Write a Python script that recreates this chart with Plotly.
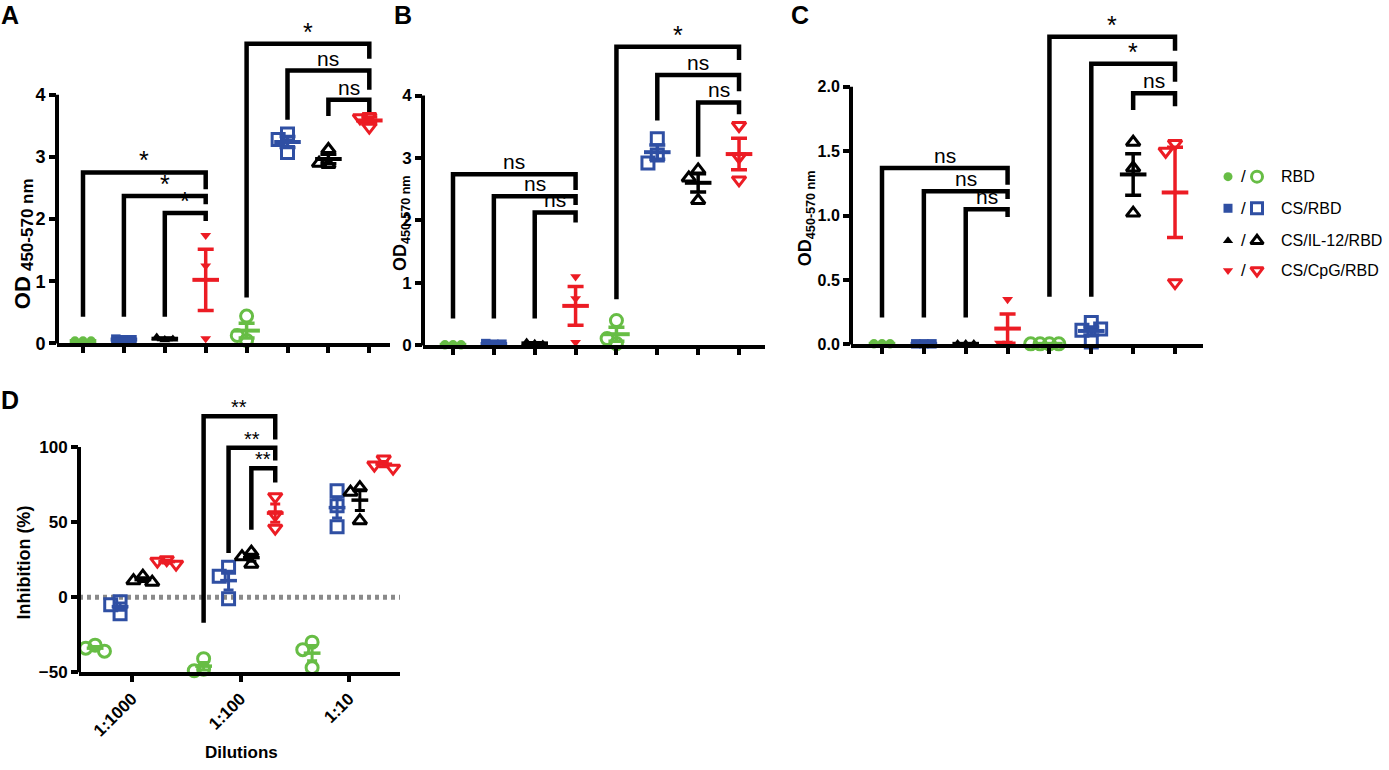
import numpy as np
import plotly.graph_objects as go

W, H = 1389, 770
FONT = "Liberation Sans"

# ---------------- data ----------------
SERIES = ["RBD", "CS/RBD", "CS/IL-12/RBD", "CS/CpG/RBD"]
COLORS = ["#67bd45", "#2f4fa3", "#000000", "#ec1c24"]
SYM_FILLED = ["circle", "square", "triangle-up", "triangle-down"]
SYM_OPEN = ["circle-open", "square-open", "triangle-up-open", "triangle-down-open"]

# Panels A-C: first four groups filled symbols, last four open symbols (same series order)
A_filled = [[0.04, 0.04, 0.04], [0.06, 0.07, 0.06], [0.06, 0.10, 0.07], [1.74, 1.25, 0.08]]
A_open = [[0.44, 0.05, 0.13], [3.37, 3.28, 3.07], [3.12, 2.88, 2.90], [3.65, 3.63, 3.48]]
B_filled = [[0.01, 0.01, 0.01], [0.02, 0.03, 0.02], [0.03, 0.05, 0.02], [1.10, 0.75, 0.05]]
B_open = [[0.40, 0.03, 0.11], [3.31, 3.05, 2.92], [2.81, 2.68, 2.32], [3.52, 3.02, 2.65]]
C_filled = [[0.005, 0.005, 0.005], [0.005, 0.005, 0.005], [0.005, 0.005, 0.005], [0.35, 0.01, 0.01]]
C_open = [[0.005, 0.005, 0.005, 0.005], [0.17, 0.11, 0.12, 0.02], [1.57, 1.37, 1.02], [1.56, 1.50, 0.48]]

A_yticks = [0, 1, 2, 3, 4]
B_yticks = [0, 1, 2, 3, 4]
C_yticks = [0.0, 0.5, 1.0, 1.5, 2.0]

# brackets: (left group, right group, bar height, left leg end, right leg end, label)
A_brackets = [(0, 3, 2.75, 0.43, 2.48, "*"), (1, 3, 2.37, 0.43, 2.24, "*"), (2, 3, 2.10, 0.43, 1.97, "*"),
              (4, 7, 4.82, 0.74, 4.58, "*"), (5, 7, 4.39, 3.60, 4.08, "ns"), (6, 7, 3.92, 3.66, 3.71, "ns")]
B_brackets = [(0, 3, 2.74, 0.43, 2.49, "ns"), (1, 3, 2.39, 0.43, 2.25, "ns"), (2, 3, 2.13, 0.43, 1.97, "ns"),
              (4, 7, 4.78, 0.74, 4.57, "*"), (5, 7, 4.33, 3.60, 4.07, "ns"), (6, 7, 3.89, 3.02, 3.70, "ns")]
C_brackets = [(0, 3, 1.37, 0.21, 1.24, "ns"), (1, 3, 1.19, 0.21, 1.13, "ns"), (2, 3, 1.05, 0.21, 0.99, "ns"),
              (4, 7, 2.39, 0.37, 2.28, "*"), (5, 7, 2.18, 0.37, 2.04, "*"), (6, 7, 1.95, 1.82, 1.85, "ns")]

# Panel D: inhibition (%) per dilution
D_dilutions = ["1:1000", "1:100", "1:10"]
D_RBD = [[-32, -34, -36], [-41, -48, -49], [-30, -35, -47]]
D_CS = [[-3, -5, -11], [20, 14, -1], [71, 61, 47]]
D_IL12 = [[14, 11, 10], [30, 27, 22], [73, 70, 51]]
D_CPG = [[25, 24, 22], [67, 55, 46], [92, 88, 86]]
D_yticks = [-50, 0, 50, 100]
# (dilution, left series, right series, bar height, left leg end, right leg end, label)
D_brackets = [(1, 0, 3, 120.5, -17, 105, "**"), (1, 1, 3, 99.5, 29.5, 91, "**"), (1, 2, 3, 86, 45, 76.5, "**")]

# ---------------- geometry (pixels) ----------------
GEOM = {
    "A": dict(n="", left=57, right=390, tick0=83, step=40.9, y0px=348, ymin=0, ypu=63.0, top=8, yaxis_top=4),
    "B": dict(n="2", left=423, right=765, tick0=453, step=40.86, y0px=350, ymin=0, ypu=63.3, top=8, yaxis_top=4),
    "C": dict(n="3", left=851, right=1203, tick0=882, step=41.86, y0px=349, ymin=0, ypu=130.5, top=8, yaxis_top=2),
    "D": dict(n="4", left=79, right=400, tick0=132, step=108.5, y0px=681, ymin=-50, ypu=1.52, top=390, yaxis_top=100),
}
D_OFFSETS = [-0.34, -0.11, 0.10, 0.32]


def fx(p):
    return p / W


def fy(p):
    return 1 - p / H


def swarm(values, xppu, yppu, diam):
    placed, offs = [], []
    for v in values:
        yp = v * yppu
        xo = 0.0
        for k in [0, -1, 1, -2, 2]:
            xo = k * diam * 0.85
            if all((xo - a) ** 2 + (yp - b) ** 2 >= (0.85 * diam) ** 2 for a, b in placed):
                break
        placed.append((xo, yp))
        offs.append(xo / xppu)
    return offs


fig = go.Figure()
annotations = []
shapes = []


def add_group(ax, center, vals, s, is_open, g, mean_size, cap, thick, msize_f, msize_o):
    offs = swarm(vals, g["step"], g["ypu"], 11 if is_open else 9.5)
    fig.add_trace(go.Scatter(
        x=[center + o for o in offs], y=vals, mode="markers", cliponaxis=False,
        xaxis="x" + ax, yaxis="y" + ax,
        marker=dict(symbol=(SYM_OPEN if is_open else SYM_FILLED)[s], size=msize_o if is_open else msize_f,
                    color=COLORS[s], line=dict(width=3 if is_open else 0, color=COLORS[s]))))
    arr = np.array(vals, dtype=float)
    mean = arr.mean()
    sem = arr.std(ddof=1) / np.sqrt(len(arr))
    fig.add_trace(go.Scatter(
        x=[center], y=[mean], mode="markers", cliponaxis=False, xaxis="x" + ax, yaxis="y" + ax,
        marker=dict(symbol="line-ew", size=mean_size, color=COLORS[s], line=dict(width=thick + 0.5, color=COLORS[s])),
        error_y=dict(type="data", array=[sem], visible=True, color=COLORS[s], thickness=thick, width=cap)))


def add_bracket(ax, xl, xr, top, le, re, label, fsize):
    fig.add_trace(go.Scatter(x=[xl, xl, xr, xr], y=[le, top, top, re], mode="lines",
                             xaxis="x" + ax, yaxis="y" + ax,
                             line=dict(color="black", width=4.5), cliponaxis=False))
    star = "*" in label
    annotations.append(dict(x=(xl + xr) / 2, y=top, xref="x" + ax, yref="y" + ax, text=label,
                            showarrow=False, yanchor="bottom", xanchor="center",
                            yshift=-4 if star else -1,
                            font=dict(family=FONT, size=fsize + (5 if star else 1), color="black")))


def setup_axes(key, yticks, tickfmt, tickfont_size, xtickvals, xticktext=None):
    g = GEOM[key]
    n = g["n"]
    xr = [(g["left"] - g["tick0"]) / g["step"], (g["right"] - g["tick0"]) / g["step"]]
    yr = [g["ymin"], g["ymin"] + (g["y0px"] - g["top"]) / g["ypu"]]
    xa = dict(domain=[fx(g["left"]), fx(g["right"])], range=xr, anchor="y" + n,
              showline=True, linewidth=4, linecolor="black", showgrid=False, zeroline=False,
              ticks="outside", ticklen=6, tickwidth=4, tickcolor="black",
              tickvals=xtickvals, showticklabels=xticktext is not None)
    if xticktext is not None:
        xa.update(ticktext=xticktext, tickangle=-45,
                  tickfont=dict(family=FONT, size=17, color="black", weight="bold"))
    ya = dict(domain=[fy(g["y0px"]), fy(g["top"])], range=yr, anchor="x" + n,
              showline=False, showgrid=False, zeroline=False,
              ticks="outside", ticklen=7, tickwidth=4, tickcolor="black",
              tickvals=yticks, tickformat=tickfmt,
              tickfont=dict(family=FONT, size=tickfont_size, color="black", weight="bold"))
    fig.update_layout(**{"xaxis" + n: xa, "yaxis" + n: ya})
    shapes.append(dict(type="line", xref="x" + n + " domain", yref="y" + n,
                       x0=0, x1=0, y0=g["ymin"] - 4 / g["ypu"], y1=g["yaxis_top"],
                       line=dict(color="black", width=4)))


panels = [("A", A_filled, A_open, A_brackets, A_yticks, "d", 18),
          ("B", B_filled, B_open, B_brackets, B_yticks, "d", 17),
          ("C", C_filled, C_open, C_brackets, C_yticks, ".1f", 16)]

for key, filled, opened, brackets, yticks, fmt, tfs in panels:
    g = GEOM[key]
    ax = g["n"]
    setup_axes(key, yticks, fmt, tfs, list(range(8)))
    for b in brackets:
        add_bracket(ax, *b, fsize=20)
    for s in range(4):
        add_group(ax, s, filled[s], s, False, g, 19, 8, 3.5, 9.5, 12)
    for s in range(4):
        add_group(ax, 4 + s, opened[s], s, True, g, 19, 8, 3.5, 9.5, 12)

# Panel D
gD = GEOM["D"]
setup_axes("D", D_yticks, "d", 17, [0, 1, 2], D_dilutions)
shapes.append(dict(type="line", xref="x4 domain", yref="y4", x0=0, x1=1, y0=0, y1=0,
                   line=dict(color="#8a8a8a", width=5, dash="4px,4px"), layer="below"))
for d, sl, sr, top, le, re, lab in D_brackets:
    add_bracket("4", d + D_OFFSETS[sl], d + D_OFFSETS[sr], top, le, re, lab, 15)
for s, series_vals in enumerate([D_RBD, D_CS, D_IL12, D_CPG]):
    for d in range(3):
        add_group("4", d + D_OFFSETS[s], series_vals[d], s, True, gD, 12, 5, 3, 9, 12)

# Legend (drawn on a hidden helper axis whose units are pixels)
fig.update_layout(
    xaxis5=dict(domain=[fx(1200), fx(1389)], range=[0, 189], visible=False, anchor="y5"),
    yaxis5=dict(domain=[fy(300), fy(140)], range=[300, 140], visible=False, anchor="x5"))
LEG_ROWS = [179, 211, 244, 274]
for s in range(4):
    fig.add_trace(go.Scatter(x=[28], y=[LEG_ROWS[s]], xaxis="x5", yaxis="y5", mode="markers", cliponaxis=False,
                             marker=dict(symbol=SYM_FILLED[s], size=9, color=COLORS[s])))
    fig.add_trace(go.Scatter(x=[57], y=[LEG_ROWS[s]], xaxis="x5", yaxis="y5", mode="markers", cliponaxis=False,
                             marker=dict(symbol=SYM_OPEN[s], size=11, color=COLORS[s],
                                         line=dict(width=3, color=COLORS[s]))))
    annotations.append(dict(x=43, y=LEG_ROWS[s], xref="x5", yref="y5", text="/", showarrow=False,
                            font=dict(family=FONT, size=17, color="black")))
    annotations.append(dict(x=80, y=LEG_ROWS[s], xref="x5", yref="y5", text=SERIES[s], showarrow=False,
                            xanchor="left", borderpad=0,
                            font=dict(family=FONT, size=16, color="black")))

# Panel letters and axis titles
for lab, px, py in [("A", -1, 15), ("B", 392, 15), ("C", 789, 15), ("D", -1, 405)]:
    annotations.append(dict(x=fx(px), y=fy(py), xref="paper", yref="paper", text=lab, showarrow=False,
                            xanchor="left", yanchor="middle",
                            font=dict(family=FONT, size=25, color="black", weight="bold")))
# panel A title: "OD" + subscript drawn as two rotated pieces
annotations.append(dict(x=fx(22), y=fy(297), xref="paper", yref="paper", text="<b>OD</b>", textangle=-90,
                        showarrow=False, xanchor="center", yanchor="middle",
                        font=dict(family=FONT, size=22, color="black")))
annotations.append(dict(x=fx(27), y=fy(228), xref="paper", yref="paper", text="<b>450-570 nm</b>",
                        textangle=-90, showarrow=False, xanchor="center", yanchor="middle",
                        font=dict(family=FONT, size=17, color="black")))
for px, py, fs in [(401, 226, 18), (806, 221, 18)]:
    annotations.append(dict(x=fx(px), y=fy(py), xref="paper", yref="paper",
                            text="<b>OD<sub>450-570 nm</sub></b>", textangle=-90, showarrow=False,
                            xanchor="center", yanchor="middle",
                            font=dict(family=FONT, size=fs, color="black")))
annotations.append(dict(x=fx(24), y=fy(570), xref="paper", yref="paper", text="<b>Inhibition (%)</b>",
                        textangle=-90, showarrow=False, xanchor="center", yanchor="middle",
                        font=dict(family=FONT, size=18, color="black")))
annotations.append(dict(x=fx(241), y=fy(762), xref="paper", yref="paper", text="<b>Dilutions</b>",
                        showarrow=False, xanchor="center", yanchor="middle",
                        font=dict(family=FONT, size=17, color="black")))

fig.update_layout(width=W, height=H, margin=dict(l=0, r=0, t=0, b=0), showlegend=False,
                  plot_bgcolor="white", paper_bgcolor="white",
                  annotations=annotations, shapes=shapes,
                  font=dict(family=FONT, color="black"))
fig.write_html("out.html", config={"displayModeBar": False},
               post_script="document.body.style.margin='0px';")
